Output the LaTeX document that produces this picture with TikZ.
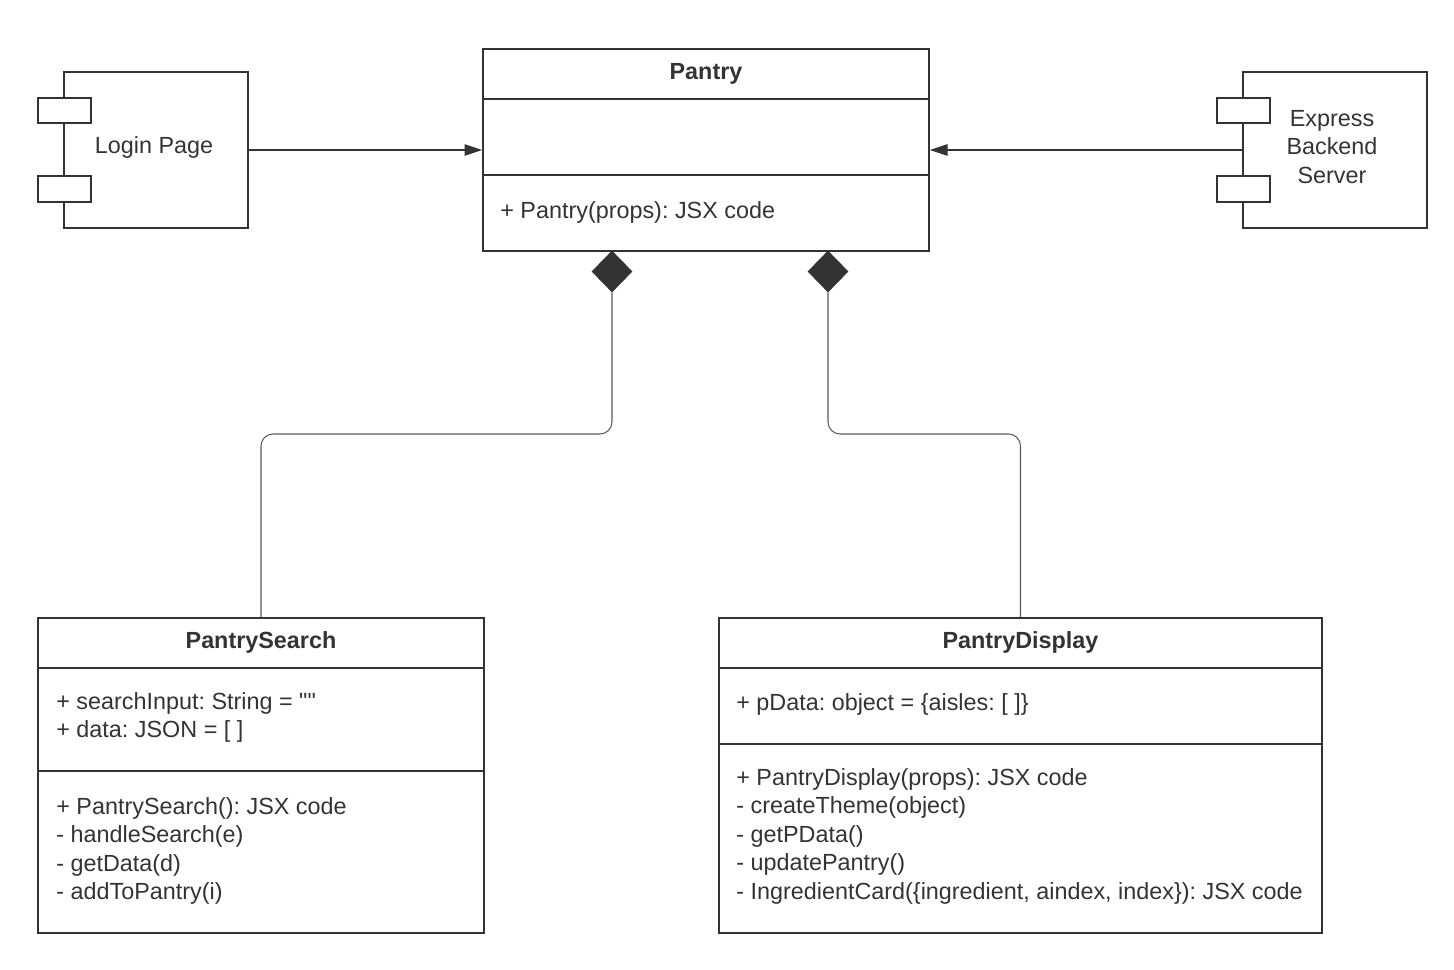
\documentclass[tikz,border=0pt]{standalone}
\usepackage{fontspec}
\setmainfont{Liberation Sans}
\newfontfamily\rawfont{Liberation Sans}
\usepackage{xcolor}
\usetikzlibrary{arrows.meta,shapes.geometric}
\definecolor{ink}{HTML}{333333}
\definecolor{wire}{HTML}{5A5A5A}
\frenchspacing

\begin{document}
\begin{tikzpicture}[x=0.02cm,y=-0.02cm,
  box/.style={draw=ink,line width=1.1pt,inner sep=0pt},
  port/.style={box,fill=white,minimum width=1.06cm,minimum height=0.51cm},
  txt/.style={text=ink,inner sep=0pt,font=\fontsize{13.3}{16.2}\selectfont},
  title/.style={txt,font=\fontsize{13.3}{16.2}\selectfont\bfseries},
  rule/.style={draw=ink,line width=1.1pt},
  assoc/.style={draw=ink,line width=0.6pt,-{Triangle[length=10pt,width=6.5pt]}},
  link/.style={draw=wire,line width=0.6pt,rounded corners=0.24cm},
  compo/.style={diamond,fill=ink,draw=ink,inner sep=0pt,minimum width=0.8cm,minimum height=0.82cm}]
\def\dy{28.5}
  \useasboundingbox (0,0) rectangle (1454,970);

  % components
  \node[box,minimum width=3.68cm,minimum height=3.12cm] (login) at (156,150) {};
  \node[port] (login-p1) at (64.5,110.5) {};
  \node[port] (login-p2) at (64.5,189) {};
  \node[txt] (login-l) at (154,147) {Login Page};

  \node[box,minimum width=3.68cm,minimum height=3.12cm] (server) at (1335,150) {};
  \node[port] (server-p1) at (1243.5,110.5) {};
  \node[port] (server-p2) at (1243.5,189) {};
  \node[txt,align=center] (server-l) at (1332,147) {Express\\Backend\\Server};

  % Pantry
  \node[box,minimum width=8.92cm,minimum height=4.04cm] (pantry) at (706,150) {};
  \draw[rule] (pantry.west |- 0,99) -- (pantry.east |- 0,99);
  \draw[rule] (pantry.west |- 0,175) -- (pantry.east |- 0,175);
  \node[title,anchor=base] (pantry-t) at (706,79) {Pantry};
  \node[txt,anchor=base west] (pantry-m1) at (500,218) {+ Pantry(props): JSX code};

  % PantrySearch
  \node[box,minimum width=8.92cm,minimum height=6.3cm] (search) at (261,775.5) {};
  \draw[rule] (search.west |- 0,668) -- (search.east |- 0,668);
  \draw[rule] (search.west |- 0,771) -- (search.east |- 0,771);
  \node[title,anchor=base] (search-t) at (261,648) {PantrySearch};
  \foreach \t [count=\i] in {+ searchInput: String = {\rawfont""}, + data: JSON = [ ]}
    \node[txt,anchor=base west] (search-a\i) at (56,{709+\dy*(\i-1)}) {\t};
  \foreach \t [count=\i] in {+ PantrySearch(): JSX code, - handleSearch(e),
      - getData(d), - addToPantry(i)}
    \node[txt,anchor=base west] (search-m\i) at (56,{814+\dy*(\i-1)}) {\t};

  % PantryDisplay
  \node[box,minimum width=12.06cm,minimum height=6.3cm] (display) at (1020.5,775.5) {};
  \draw[rule] (display.west |- 0,668) -- (display.east |- 0,668);
  \draw[rule] (display.west |- 0,744) -- (display.east |- 0,744);
  \node[title,anchor=base] (display-t) at (1020.5,648) {PantryDisplay};
  \node[txt,anchor=base west] (display-a1) at (736,710) {+ pData: object = \{aisles: [ ]\}};
  \foreach \t [count=\i] in {+ PantryDisplay(props): JSX code, - createTheme(object),
      - getPData(), - updatePantry(),
      {- IngredientCard(\{ingredient, aindex, index\}): JSX code}}
    \node[txt,anchor=base west] (display-m\i) at (736,{785+\dy*(\i-1)}) {\t};

  % relations
  \draw[assoc] (login.east) -- (pantry.west);
  \draw[assoc] (server.west) -- (pantry.east);

  \node[compo] (dia-a) at (612,271.5) {};
  \node[compo] (dia-b) at (828,271.5) {};
  \coordinate (mid) at (0,434);
  \draw[link] (dia-a.south) -- (dia-a.south |- mid) -- (search.north |- mid) -- (search.north);
  \draw[link] (dia-b.south) -- (dia-b.south |- mid) -- (display.north |- mid) -- (display.north);
\end{tikzpicture}
\end{document}
